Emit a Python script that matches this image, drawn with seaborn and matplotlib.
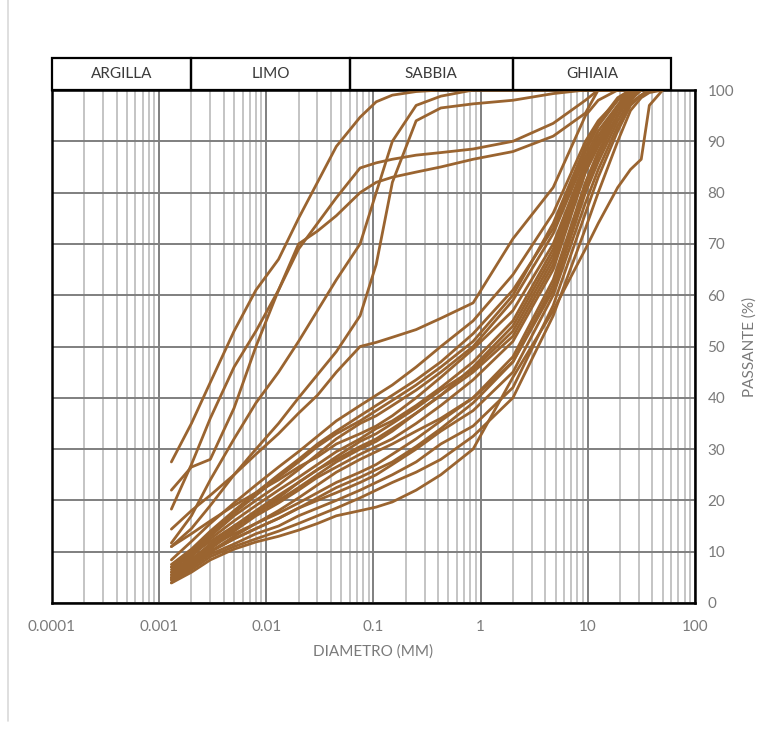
import numpy as np
import pandas as pd
import matplotlib
matplotlib.use("Agg")
import matplotlib.pyplot as plt
import matplotlib.ticker as mticker
from matplotlib.patches import Rectangle
from matplotlib.transforms import blended_transform_factory
import seaborn as sns

# ---------------- data ----------------
diam = [0.0013, 0.002, 0.003, 0.005, 0.008, 0.013, 0.02, 0.03, 0.045, 0.075,
        0.106, 0.15, 0.25, 0.425, 0.85, 2, 4.75, 9.5, 12.5, 19, 25, 31.5, 37.5, 50]
nan = np.nan

# fine-grained samples (clays / silts)
fine_a = [27.5, 35, 43, 53, 61, 67, 75, 82, 89, 94.7, 97.7, 99, 99.7, 100, 100, 100, 100, 100, 100, 100, nan, nan, nan, nan]
fine_b = [22, 26.5, 28, 38, 50, 61, 70, 72.5, 75.5, 80, 82, 83, 84, 85, 86.5, 88, 91, 95.5, 100, 100, 100, nan, nan, nan]
fine_c = [18.3, 27, 36, 46, 53, 61, 69, 74, 79, 84.8, 85.8, 86.5, 87.3, 87.8, 88.5, 90, 93.5, 98, 100, 100, 100, nan, nan, nan]
fine_d = [11.7, 17, 24, 32, 39, 45, 51, 57, 63, 70, 80, 90, 97, 98.8, 100, 100, 100, 100, 100, 100, nan, nan, nan, nan]
fine_e = [11, 14.5, 19, 25, 30, 35, 40, 44.5, 49, 56, 66, 82, 94, 96.5, 97.3, 98, 99.3, 100, 100, 100, nan, nan, nan, nan]
fine_f = [14.4, 18, 21, 25, 29, 33, 37, 40.5, 45, 50, 50.8, 51.8, 53.3, 55.5, 58.5, 71, 81, 95, 98, 100, 100, nan, nan, nan]

# coarse samples (sands / gravels)
coarse_01 = [8.4, 12, 15.5, 19.5, 23, 26.5, 29.5, 32.5, 35.5, 38.5, 40.5, 42.5, 46, 50, 55, 64, 76, 90, 94, 98, 100, nan, nan, nan]
coarse_02 = [7.5, 10.5, 14, 18, 21.5, 25, 28, 31, 33.5, 36.5, 38.5, 40.5, 43.5, 47, 52.5, 61, 73, 88, 93, 98, 100, nan, nan, nan]
coarse_03 = [6.5, 9.5, 13, 17, 20, 23, 26, 29, 32, 35, 36.5, 38.5, 41.5, 45, 50, 59, 72, 87, 92, 97, 100, nan, nan, nan]
coarse_04 = [11, 13.5, 16, 19, 21.5, 24, 26.5, 28.5, 31, 33, 34.5, 36.5, 40, 44, 49.5, 57, 70, 86, 91, 97, 100, nan, nan, nan]
coarse_05 = [6, 9, 12.5, 16, 19, 22, 24.5, 27, 29.5, 32, 34, 35.5, 38.5, 42, 47, 55, 69, 86, 91, 96.5, 99.5, 100, nan, nan]
coarse_06 = [5.5, 8, 11, 14.5, 17.5, 20.5, 23.5, 26, 28.5, 31.5, 33, 35, 38, 41.5, 45.5, 53, 67, 85, 90, 96, 99, 100, nan, nan]
coarse_07 = [7, 9.5, 12, 15, 17.5, 20, 22.5, 25, 27.5, 30, 31.5, 33.5, 37, 40.5, 45, 52, 66, 84, 89.5, 96, 99, 100, nan, nan]
coarse_08 = [5, 7.5, 10.5, 14, 17, 19.5, 22, 24.5, 26.5, 29, 30.5, 32, 35, 38.5, 43.5, 51, 65, 84, 89, 95, 99, 100, nan, nan]
coarse_09 = [4.5, 7, 10, 13, 15.5, 18, 20.5, 23, 25.5, 28, 29.5, 31, 33.5, 36, 40, 48, 63, 82, 88, 95, 98.5, 100, 100, nan]
coarse_10 = [6, 8.5, 11, 13.5, 15.5, 17.5, 19.5, 21.5, 23.5, 25.5, 27, 29, 32, 35.5, 40, 47, 61, 80, 86, 94, 98, 100, 100, nan]
coarse_11 = [5, 7.5, 10, 12.5, 14.5, 16.5, 18.5, 20, 21.5, 23.5, 25, 27, 30, 33.5, 37.5, 45, 60, 78, 84.5, 93, 97.5, 99, 100, 100]
coarse_12 = [4.5, 7, 9.5, 11.5, 13.5, 15, 17, 18.5, 20, 22, 23.5, 25, 27.5, 31, 34.5, 42, 58, 76, 83, 92, 97, 99, 100, 100]
coarse_13 = [4, 6.5, 9, 11, 12.5, 14, 15.5, 17, 18.5, 20.5, 22, 23.5, 25.5, 28, 32.5, 40, 56, 73, 80, 90, 96, 98.5, 99.5, 100]
coarse_14 = [3.9, 6, 8.4, 10.5, 11.9, 13, 14.2, 15.5, 17, 18, 18.7, 19.7, 22, 25, 30, 44, 57, 69, 74, 81, 84.5, 86.5, 97, 100]
coarse_15 = [7, 10, 13.5, 17.5, 21, 24.5, 27.5, 30.5, 33, 35.5, 37.5, 39.5, 42.5, 46, 51, 60, 74, 89, 93.5, 98.5, 100, nan, nan, nan]
coarse_16 = [5.5, 8.5, 11.5, 15, 18, 21, 23.5, 26, 28, 30.5, 32, 34, 37, 40.5, 46, 54, 68, 85, 90, 96.5, 99.5, 100, nan, nan]
coarse_17 = [4.8, 7.2, 10, 12.5, 14.5, 16.5, 18.5, 20.5, 22.5, 24.5, 26, 27.5, 30.5, 34, 39, 47, 62, 81, 87, 95, 99, 100, nan, nan]

samples = {
    "A": fine_a, "B": fine_b, "C": fine_c, "D": fine_d, "E": fine_e, "F": fine_f,
    "C01": coarse_01, "C02": coarse_02, "C03": coarse_03, "C04": coarse_04,
    "C05": coarse_05, "C06": coarse_06, "C07": coarse_07, "C08": coarse_08,
    "C09": coarse_09, "C10": coarse_10, "C11": coarse_11, "C12": coarse_12,
    "C13": coarse_13, "C14": coarse_14, "C15": coarse_15, "C16": coarse_16,
    "C17": coarse_17,
}

class_names = ["ARGILLA", "LIMO", "SABBIA", "GHIAIA"]
class_bounds = [0.0001, 0.002, 0.06, 2, 60]

x_ticks = [0.0001, 0.001, 0.01, 0.1, 1, 10, 100]
x_tick_labels = ["0.0001", "0.001", "0.01", "0.1", "1", "10", "100"]
y_ticks = list(range(0, 101, 10))

# ---------------- long-form table ----------------
rows = []
for name, vals in samples.items():
    for d, p in zip(diam, vals):
        if not np.isnan(p):
            rows.append((name, d, p))
df = pd.DataFrame(rows, columns=["sample", "d", "p"])

# ---------------- style ----------------
sns.set_style("white")
plt.rcParams["font.family"] = ["Lato", "DejaVu Sans"]

brown = "#9A6430"
text_grey = "#7a7a7a"

fig = plt.figure(figsize=(7.57, 7.31), dpi=100)
ax = fig.add_axes([52 / 757, 128 / 731, 643 / 757, 513 / 731])

sns.lineplot(data=df, x="d", y="p", units="sample", estimator=None,
             color=brown, linewidth=2.0, sort=False, legend=False, ax=ax, zorder=3)

ax.set_xscale("log")
ax.set_xlim(1e-4, 100)
ax.set_ylim(0, 100)

ax.xaxis.set_major_locator(mticker.FixedLocator(x_ticks))
ax.xaxis.set_major_formatter(mticker.FixedFormatter(x_tick_labels))
ax.xaxis.set_minor_locator(mticker.LogLocator(base=10, subs=np.arange(2, 10), numticks=50))
ax.xaxis.set_minor_formatter(mticker.NullFormatter())
ax.set_yticks(y_ticks)

ax.grid(which="major", axis="both", color="#7f7f7f", linewidth=1.4, zorder=1)
ax.grid(which="minor", axis="x", color="#c4c4c4", linewidth=1.4, zorder=0)
ax.set_axisbelow(True)

ax.yaxis.tick_right()
ax.yaxis.set_label_position("right")
ax.tick_params(axis="both", which="both", length=0, labelsize=11, labelcolor=text_grey)
ax.tick_params(axis="x", pad=12)
ax.tick_params(axis="y", pad=9)

ax.set_xlabel("DIAMETRO (MM)", fontsize=11, color=text_grey, labelpad=8)
ax.set_ylabel("PASSANTE (%)", fontsize=11, color=text_grey, labelpad=6, rotation=90)

for s in ax.spines.values():
    s.set_visible(True)
    s.set_color("black")
    s.set_linewidth(1.8)

# header boxes for soil classes
trans = blended_transform_factory(ax.transData, ax.transAxes)
box_h = 32 / 513
for i, name in enumerate(class_names):
    x0, x1 = class_bounds[i], class_bounds[i + 1]
    rect = Rectangle((x0, 1.0), x1 - x0, box_h, transform=trans, fill=False,
                     edgecolor="black", linewidth=1.6, clip_on=False, zorder=5)
    ax.add_patch(rect)
    xc = np.sqrt(x0 * x1)
    ax.text(xc, 1.0 + box_h / 2, name, transform=trans, ha="center", va="center",
            fontsize=11, color="#3a3a3a", clip_on=False)

# light frame on the left of figure
fig.add_artist(plt.Line2D([8 / 757, 8 / 757], [10 / 731, 1.0], transform=fig.transFigure,
                          color="#d9d9d9", linewidth=1.2))

fig.savefig("out.png", dpi=100)
